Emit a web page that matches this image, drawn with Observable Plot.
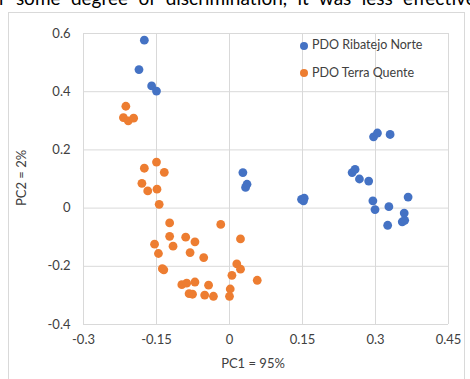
<!DOCTYPE html>
<html>
<head>
<meta charset="utf-8">
<script src="https://cdn.jsdelivr.net/npm/d3@7"></script>
<script src="https://cdn.jsdelivr.net/npm/@observablehq/plot@0.6"></script>
<style>
  html, body { margin: 0; padding: 0; background: #fff; }
  #wrap { position: relative; width: 470px; height: 379px; overflow: hidden; font-family: Lato, "Open Sans", sans-serif; }
  #topText { position: absolute; left: -1px; top: -14px; font-size: 19px; word-spacing: 5.5px; color: #000; white-space: nowrap; }
  #box { position: absolute; left: 8px; top: 12px; width: 457px; height: 380px; border: 1px solid #d9d9d9; box-sizing: border-box; }
  #chart { position: absolute; left: 0; top: 0; }
  .lab { position: absolute; font-size: 13px; color: #404040; white-space: nowrap; }
  .leg { position: absolute; font-size: 12.5px; color: #404040; white-space: nowrap; }
  .dot { display: inline-block; width: 8px; height: 8px; border-radius: 50%; margin-right: 4px; vertical-align: -0.5px; }
</style>
</head>
<body>
<div id="wrap">
  <div id="topText">r some degree of discrimination, it was less effective</div>
  <div id="box"></div>
  <div id="chart"></div>
</div>
<script>
const seriesNames = ["PDO Ribatejo Norte", "PDO Terra Quente"];
const seriesColors = ["#4472C4", "#ED7D31"];

const ribatejoX = [-0.175, -0.186, -0.160, -0.150, 0.0275, 0.036, 0.033, 0.148, 0.1535, 0.152,
  0.296, 0.304, 0.330, 0.252, 0.258, 0.267, 0.286, 0.2946, 0.299, 0.3275, 0.367, 0.359, 0.355, 0.360, 0.325];
const ribatejoY = [0.577, 0.476, 0.420, 0.402, 0.122, 0.082, 0.071, 0.030, 0.034, 0.025,
  0.245, 0.258, 0.253, 0.122, 0.133, 0.100, 0.093, 0.025, -0.005, 0.005, 0.038, -0.017, -0.047, -0.042, -0.059];

const terraX = [-0.213, -0.218, -0.208, -0.197, -0.175, -0.150, -0.134, -0.180, -0.168, -0.149,
  -0.1445, -0.123, -0.018, -0.123, -0.090, -0.071, 0.0226, -0.154, -0.116, -0.146,
  -0.081, -0.053, 0.015, 0.0226, -0.138, -0.135, 0.005, 0.057, -0.098, -0.088,
  -0.071, -0.043, 0.0015, -0.083, -0.076, -0.051, -0.033, 0.000];
const terraY = [0.350, 0.311, 0.300, 0.309, 0.137, 0.158, 0.123, 0.085, 0.059, 0.065,
  0.013, -0.051, -0.056, -0.097, -0.100, -0.116, -0.106, -0.124, -0.131, -0.156,
  -0.153, -0.170, -0.192, -0.210, -0.208, -0.212, -0.231, -0.248, -0.263, -0.258,
  -0.254, -0.265, -0.278, -0.294, -0.296, -0.299, -0.303, -0.303];

const xTicks = [-0.3, -0.15, 0, 0.15, 0.3, 0.45];
const yTicks = [-0.4, -0.2, 0, 0.2, 0.4, 0.6];
const xTitle = "PC1 = 95%";
const yTitle = "PC2 = 2%";

const data = [
  ...ribatejoX.map((x, i) => ({x, y: ribatejoY[i], s: seriesNames[0]})),
  ...terraX.map((x, i) => ({x, y: terraY[i], s: seriesNames[1]}))
];

const chart = Plot.plot({
  width: 470,
  height: 379,
  marginLeft: 83,
  marginRight: 22,
  marginTop: 33,
  marginBottom: 55,
  style: {fontFamily: "Lato, 'Open Sans', sans-serif", fontSize: "13px", color: "#404040", background: "transparent"},
  x: {domain: [-0.3, 0.45], ticks: xTicks, tickFormat: d => String(d), tickSize: 0, tickPadding: 10, label: null},
  y: {domain: [-0.4, 0.6], ticks: yTicks, tickFormat: d => String(d), tickSize: 0, tickPadding: 13, label: null},
  color: {domain: seriesNames, range: seriesColors},
  marks: [
    Plot.gridX(xTicks, {stroke: "#d9d9d9", strokeOpacity: 1, strokeWidth: 1}),
    Plot.gridY(yTicks, {stroke: "#d9d9d9", strokeOpacity: 1, strokeWidth: 1}),
    Plot.dot(data, {x: "x", y: "y", fill: "s", r: 4.4, stroke: null})
  ]
});
document.getElementById("chart").appendChild(chart);

const wrap = document.getElementById("wrap");
function addLabel(text, left, top, extraStyle) {
  const d = document.createElement("div");
  d.className = "lab";
  d.textContent = text;
  d.style.left = left + "px";
  d.style.top = top + "px";
  if (extraStyle) Object.assign(d.style, extraStyle);
  wrap.appendChild(d);
  return d;
}
addLabel(xTitle, 253, 355, {transform: "translateX(-50%)"});
addLabel(yTitle, 21, 178, {transform: "translate(-50%, -50%) rotate(-90deg)"});

seriesNames.forEach((name, i) => {
  const d = document.createElement("div");
  d.className = "leg";
  d.style.left = "300px";
  d.style.top = (37 + i * 27.5) + "px";
  const dot = document.createElement("span");
  dot.className = "dot";
  dot.style.background = seriesColors[i];
  d.appendChild(dot);
  d.appendChild(document.createTextNode(name));
  wrap.appendChild(d);
});
</script>
</body>
</html>
